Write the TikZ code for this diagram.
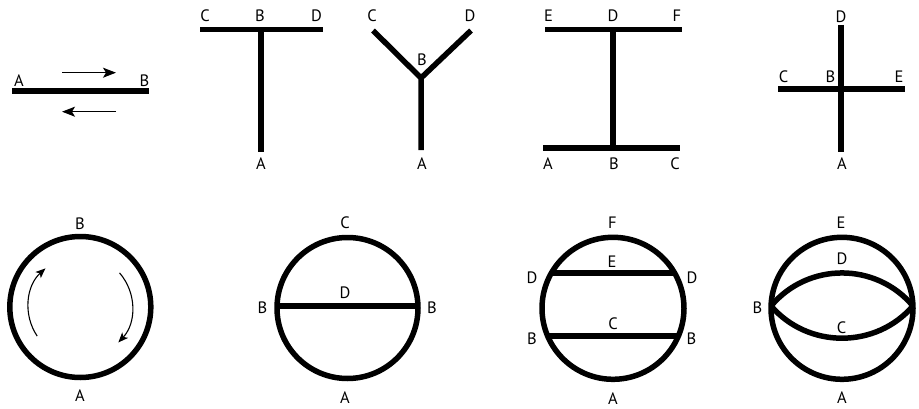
\documentclass[tikz,border=0pt]{standalone}
\usepackage{fontspec}
\setmainfont{PT Sans}
\usetikzlibrary{arrows.meta}
\newcommand{\ArrTip}{Stealth[length=13pt,width=10pt,inset=3pt]}
\newcommand{\ArcTip}{Stealth[length=10pt,width=8pt,inset=2.5pt]}
\tikzset{beam/.style={line width=5.5pt}}
\tikzset{flowarr/.style={line width=1.3pt,-{\ArrTip}}}
\tikzset{arcarr/.style={line width=1.1pt,-{\ArcTip}}}
\tikzset{lbl/.style={inner sep=0pt,font=\fontsize{16.5}{16.5}\selectfont}}
\begin{document}
\begin{tikzpicture}[x=1pt,y=1pt]
\useasboundingbox(0,0)rectangle(919,408);
% segment with flow both ways
\coordinate(sA)at(12,317);\coordinate(sB)at(149,317);\draw[beam](sA)--(sB);
\coordinate(fw1)at(62,335.3);\coordinate(fw2)at(116,335.3);\draw[flowarr](fw1)--(fw2);
\coordinate(bw1)at(116,296.3);\coordinate(bw2)at(62,296.3);\draw[flowarr](bw1)--(bw2);
\node[lbl](sAl)at(19,327){A};\node[lbl](sBl)at(144.5,327){B};
% T
\coordinate(tC)at(200,378.5);\coordinate(tB)at(261,378.5);\coordinate(tD)at(323,378.5);\coordinate(tA)at(261,256);
\draw[beam](tC)--(tD)(tB)--(tA);
\node[lbl](tCl)at(205,392.5){C};\node[lbl](tBl)at(260,392.5){B};\node[lbl](tDl)at(316.5,392.5){D};\node[lbl](tAl)at(261,244){A};
% Y
\coordinate(yC)at(373,377.5);\coordinate(yB)at(421,330);\coordinate(yD)at(471,377.5);\coordinate(yA)at(421,258);
\draw[beam,line join=miter](yC)--(yB)--(yD)(yB)--(yA);
\node[lbl](yCl)at(372,392.5){C};\node[lbl](yDl)at(470,392.5){D};\node[lbl](yBl)at(422,348){B};\node[lbl](yAl)at(422,244){A};
% I
\coordinate(iE)at(545,378.5);\coordinate(iD)at(613,378.5);\coordinate(iF)at(681.5,378.5);
\coordinate(iA)at(543,260);\coordinate(iB)at(613,260);\coordinate(iC)at(680,260);
\draw[beam](iE)--(iF)(iA)--(iC)(iD)--(iB);
\node[lbl](iEl)at(548.5,392.5){E};\node[lbl](iDl)at(613,392.5){D};\node[lbl](iFl)at(677,392.5){F};
\node[lbl](iAl)at(548,244){A};\node[lbl](iBl)at(614,244){B};\node[lbl](iCl)at(675,244){C};
% cross
\coordinate(xD)at(841,383);\coordinate(xA)at(841,256);\coordinate(xC)at(778,319);\coordinate(xE)at(905,319);\coordinate(xB)at(841,319);
\draw[beam](xC)--(xE)(xD)--(xA);
\node[lbl](xDl)at(841,391){D};\node[lbl](xCl)at(783.5,331){C};\node[lbl](xBl)at(830.5,331){B};\node[lbl](xEl)at(899,331){E};\node[lbl](xAl)at(842,244){A};
% ring with circulation
\coordinate(r1)at(80.3,101);\draw[beam](r1)circle[radius=70.5];
\draw[arcarr](r1)++(214:52)arc[start angle=214,end angle=132,radius=52];
\draw[arcarr](r1)++(41:52)arc[start angle=41,end angle=-43,radius=52];
\node[lbl](r1B)at(80,184.5){B};\node[lbl](r1A)at(80,12){A};
% ring with one chord
\coordinate(r2)at(347.5,100);\draw[beam](r2)circle[radius=70.5];
\path(r2)++(178.4:70.5)coordinate(r2L)(r2)++(1.6:70.5)coordinate(r2R);\draw[beam](r2L)--(r2R);
\node[lbl](r2C)at(345,185.5){C};\node[lbl](r2D)at(345,115.5){D};\node[lbl](r2Bl)at(262.5,100.5){B};\node[lbl](r2Br)at(432,100.5){B};\node[lbl](r2A)at(345,10.5){A};
% ring with two chords
\coordinate(r3)at(613,99.7);\draw[beam](r3)circle[radius=71];
\path(r3)++(150.2:71)coordinate(r3UL)(r3)++(29.8:71)coordinate(r3UR)(r3)++(203:71)coordinate(r3LL)(r3)++(-23:71)coordinate(r3LR);
\draw[beam](r3UL)--(r3UR)(r3LL)--(r3LR);
\node[lbl](r3F)at(612.5,185.5){F};\node[lbl](r3E)at(612,146.5){E};\node[lbl](r3Dl)at(532,130.5){D};\node[lbl](r3Dr)at(692,130.5){D};
\node[lbl](r3C)at(613,84){C};\node[lbl](r3Bl)at(532,69){B};\node[lbl](r3Br)at(691.5,69){B};\node[lbl](r3A)at(613,9.5){A};
% ring with lens
\coordinate(r4)at(842,99.7);\draw[beam](r4)circle[radius=71];
\path(r4)++(178.1:71)coordinate(r4L)(r4)++(1.9:71)coordinate(r4R);
\draw[beam](r4L)..controls+(37,44)and+(-37,44)..(r4R);
\draw[beam](r4L)..controls+(37,-43)and+(-37,-43)..(r4R);
\node[lbl](r4E)at(841,185){E};\node[lbl](r4D)at(842,149){D};\node[lbl](r4C)at(841.5,80.5){C};\node[lbl](r4B)at(757.5,100.5){B};\node[lbl](r4A)at(842,10){A};
\end{tikzpicture}
\end{document}
